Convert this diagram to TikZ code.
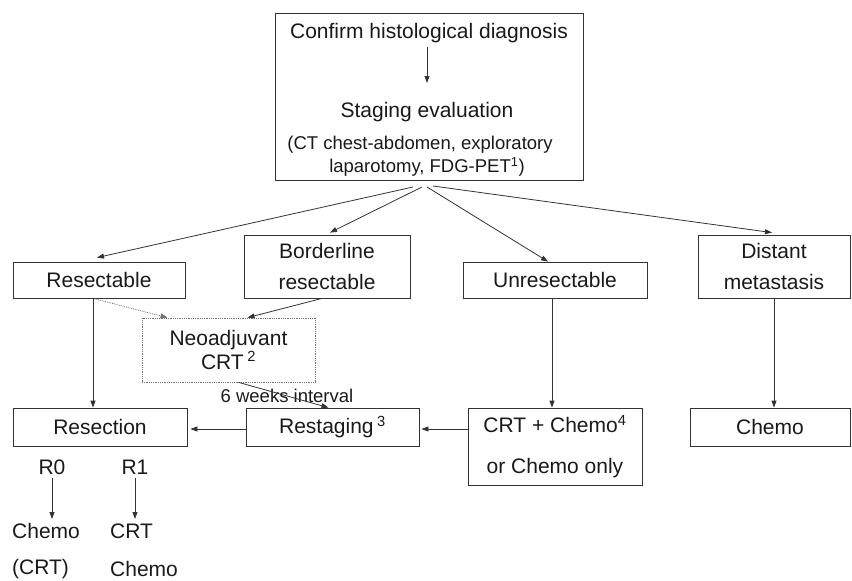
\documentclass[tikz,border=0pt]{standalone}
\usepackage{fontspec}
\setmainfont{Liberation Sans}
\usetikzlibrary{arrows.meta}
\tikzset{
  bx/.style={draw=black!80, line width=0.8pt, inner sep=0pt, align=center, text=black!90,
    font=\fontsize{21}{31}\selectfont},
  txt/.style={inner sep=0pt, text=black!90, font=\fontsize{21}{24}\selectfont},
  smalltxt/.style={inner sep=0pt, text=black!90, font=\fontsize{18.5}{22}\selectfont},
  arr/.style={draw=black!80, line width=0.8pt, -{Triangle[length=7pt,width=5pt]}},
  ln/.style={draw=black!80, line width=0.8pt},
}
\begin{document}
\begin{tikzpicture}[x=1pt,y=-1pt]
\useasboundingbox (0,0) rectangle (852,581);
% top box
\node[bx, minimum width=308pt, minimum height=167pt] (top) at (429,96.5) {};
\node[txt] (conf) at (429,33) {Confirm histological diagnosis};
\node[txt] (stag) at (427,112) {Staging evaluation};
\node[smalltxt] (ct1) at (420,145) {(CT chest-abdomen, exploratory};
\node[smalltxt] (ct2) at (427,167) {laparotomy, FDG-PET\textsuperscript{1})};
\coordinate (c1) at (427,47);
\coordinate (c2) at (427,83);
\draw[arr] (c1) -- (c2);
% second row
\node[bx, minimum width=172pt, minimum height=36pt] (res) at (99,280) {Resectable};
\node[bx, minimum width=166pt, minimum height=63pt] (bord) at (327,266.5) {Borderline\\resectable};
\node[bx, minimum width=184pt, minimum height=36pt] (unres) at (555,280) {Unresectable};
\node[bx, minimum width=152pt, minimum height=63pt] (dist) at (774,266.5) {Distant\\metastasis};
% neoadjuvant
\node[bx, draw=black!55, densely dotted, line width=0.7pt, minimum width=173pt, minimum height=64pt,
  font=\fontsize{21}{24}\selectfont] (neo) at (228.5,350) {Neoadjuvant\\CRT\,\textsuperscript{2}};
% third row
\node[bx, minimum width=174pt, minimum height=38pt] (resec) at (100,427) {Resection};
\node[bx, minimum width=173pt, minimum height=38pt] (restag) at (332.5,427) {Restaging\,\textsuperscript{3}};
\node[bx, minimum width=174pt, minimum height=77pt, font=\fontsize{21}{41}\selectfont] (crt) at (555,446.5) {CRT + Chemo\textsuperscript{4}\\or Chemo only};
\node[bx, minimum width=160pt, minimum height=38pt] (chemo) at (770,427) {Chemo};
% label
\node[smalltxt] (wk) at (287,396) {6 weeks interval};
% R0 / R1
\node[txt] (r0) at (52,467) {R0};
\node[txt] (r1) at (135,467) {R1};
\node[txt, anchor=west] (ch1) at (12,531) {Chemo};
\node[txt, anchor=west] (crt1) at (110,531) {CRT};
\node[txt, anchor=west] (crt2) at (12,569) {(CRT)};
\node[txt, anchor=west] (ch2) at (110,569) {Chemo};
% arrows from top
\coordinate (o1) at (413,187);
\coordinate (o2) at (422,187);
\coordinate (o3) at (427,187);
\coordinate (o4) at (433,186);
\draw[arr] (o1) -- ([xshift=-2pt,yshift=4pt]res.north);
\draw[arr] (o2) -- ([xshift=3pt,yshift=2pt]bord.north);
\draw[arr] (o3) -- ([xshift=-7pt]unres.north);
\draw[arr] (o4) -- ([xshift=-2pt,yshift=2pt]dist.north);
% to neoadjuvant
\draw[ln, densely dotted, draw=black!55, -{Triangle[length=7pt,width=5pt]}] ([xshift=-6pt]res.south) -- ([xshift=-61pt]neo.north);
\draw[arr] ([xshift=-5pt]bord.south) -- ([xshift=19pt]neo.north);
% verticals
\draw[arr] ([xshift=-6pt]res.south) -- ([xshift=-7pt]resec.north);
\draw[arr] ([xshift=-3pt]unres.south) -- ([xshift=-3pt]crt.north);
\draw[arr] (dist.south) -- ([xshift=4pt]chemo.north);
% neo to restaging
\draw[arr] ([xshift=10pt]neo.south) -- ([xshift=-4pt]restag.north);
% horizontal
\draw[arr] ([yshift=-2pt]restag.west) -- ([xshift=3pt,yshift=-2pt]resec.east);
\draw[arr] ([yshift=17.5pt]crt.west) -- ([xshift=2pt,yshift=-2pt]restag.east);
% R arrows
\coordinate (r0a) at (52,478);
\coordinate (r0b) at (52,519);
\coordinate (r1a) at (135,478);
\coordinate (r1b) at (135,519);
\draw[arr] (r0a) -- (r0b);
\draw[arr] (r1a) -- (r1b);
\end{tikzpicture}
\end{document}
